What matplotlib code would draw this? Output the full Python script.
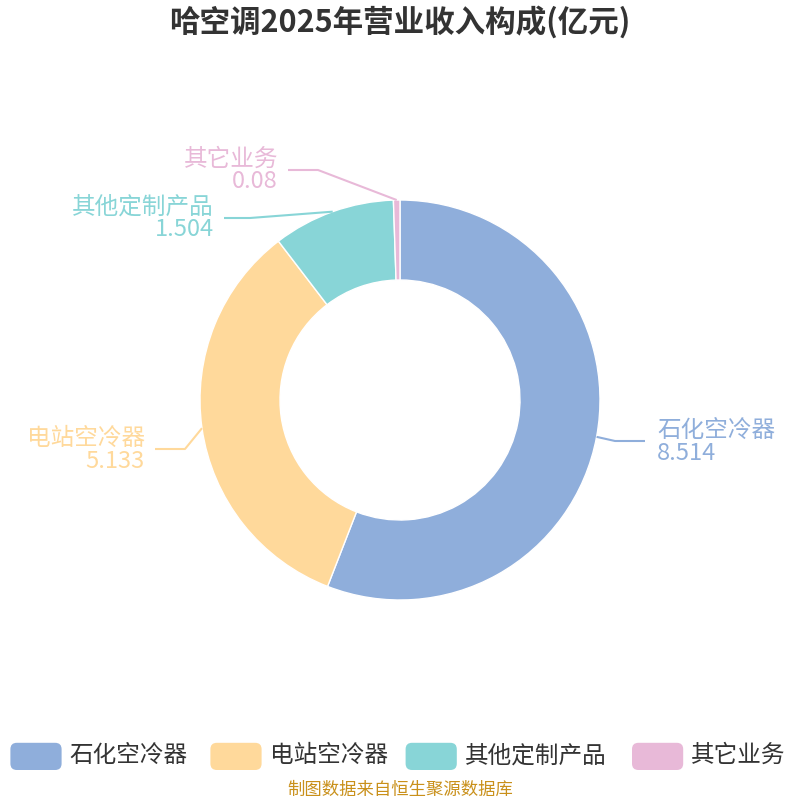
import numpy as np
import matplotlib
matplotlib.use("Agg")
import matplotlib.pyplot as plt
from matplotlib.patches import FancyBboxPatch

plt.rcParams['font.family'] = ['Noto Sans CJK SC', 'DejaVu Sans']

# data
names = ['石化空冷器', '电站空冷器', '其他定制产品', '其它业务']
values = [8.514, 5.133, 1.504, 0.08]
value_text = ['8.514', '5.133', '1.504', '0.08']
colors = ['#8faedb', '#ffd99b', '#88d5d7', '#e8b9d8']

title = '哈空调2025年营业收入构成(亿元)'
source = '制图数据来自恒生聚源数据库'

fig = plt.figure(figsize=(8, 8), dpi=100)
ax = fig.add_axes([0, 0, 1, 1])

wedges, _ = ax.pie(values, colors=colors, startangle=90, counterclock=False,
                   radius=1.0, wedgeprops=dict(width=0.4, edgecolor='white', linewidth=1))

# pie resets the limits, so set them afterwards: 1 unit = 200 px
ax.set_xlim(-2, 2)
ax.set_ylim(-2, 2)
ax.set_aspect('equal')
ax.axis('off')

# label layout: elbow point and end of line (in axes data units)
elbow = [(1.075, -0.205), (-1.075, -0.245), (-0.75, 0.91), (-0.41, 1.15)]
line_end = [(1.225, -0.205), (-1.225, -0.245), (-0.88, 0.91), (-0.56, 1.15)]

for i, w in enumerate(wedges):
    ang = np.deg2rad((w.theta1 + w.theta2) / 2)
    p0 = (np.cos(ang), np.sin(ang))
    ex, ey = elbow[i]
    lx, ly = line_end[i]
    ax.plot([p0[0], ex, lx], [p0[1], ey, ly], color=colors[i], lw=1.5,
            solid_capstyle='butt')
    right = lx > 0
    tx = lx + (0.06 if right else -0.05)
    ha = 'left' if right else 'right'
    ax.text(tx, ly + 0.055, names[i], ha=ha, va='center', fontsize=17, color=colors[i])
    ax.text(tx, ly - 0.06, value_text[i], ha=ha, va='center', fontsize=17, color=colors[i])

fig.text(0.5, 0.972, title, ha='center', va='center', fontsize=22,
         fontweight='bold', color='#333333')

# legend
leg_x = [0.013, 0.263, 0.507, 0.79]
for i in range(len(names)):
    box = FancyBboxPatch((leg_x[i], 0.0375), 0.064, 0.034,
                         boxstyle='round,pad=0,rounding_size=0.008',
                         transform=fig.transFigure, facecolor=colors[i],
                         edgecolor='none')
    fig.patches.append(box)
    fig.text(leg_x[i] + 0.074, 0.0555, names[i], ha='left', va='center',
             fontsize=17, color='#333333')

fig.text(0.5, 0.012, source, ha='center', va='center', fontsize=12.5,
         color='#c9901a')

fig.savefig('out.png', dpi=100)
